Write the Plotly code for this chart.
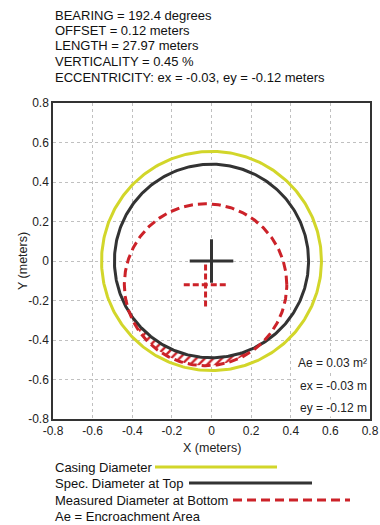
import numpy as np
import plotly.graph_objects as go

# ---- data ----
header_lines = ["BEARING = 192.4 degrees", "OFFSET = 0.12 meters", "LENGTH = 27.97 meters",
                "VERTICALITY = 0.45 %", "ECCENTRICITY: ex = -0.03, ey = -0.12 meters"]
casing_radius = 0.555
spec_radius = 0.49
measured_radius = 0.41
ex = -0.03
ey = -0.12
cross_half = 0.11
inset_lines = ["Ae = 0.03 m²", "ex = -0.03 m", "ey = -0.12 m"]
legend_labels = ["Casing Diameter", "Spec. Diameter at Top", "Measured Diameter at Bottom",
                 "Ae = Encroachment Area"]
tick_vals = [-0.8, -0.6, -0.4, -0.2, 0, 0.2, 0.4, 0.6, 0.8]
tick_text = ["-0.8", "-0.6", "-0.4", "-0.2", "0", "0.2", "0.4", "0.6", "0.8"]
x_title = "X (meters)"
y_title = "Y (meters)"

YELLOW = "#d2d62a"
BLACK = "#333333"
RED = "#cc2229"
FONT = "Arial, Liberation Sans, sans-serif"

W, H = 380, 525
ML, MR, MT, MB = 53, 10, 103, 106
PW, PH = W - ML - MR, H - MT - MB


def px(x):
    return (x - ML) / PW


def py(y):
    return (H - MB - y) / PH


th = np.linspace(0, 2 * np.pi, 361)

fig = go.Figure()

# encroachment region (measured circle outside spec circle)
t = np.linspace(-np.pi, np.pi, 2001)
rx = ex + measured_radius * np.cos(t)
ry = ey + measured_radius * np.sin(t)
d = np.hypot(rx, ry)
m = d > spec_radius
ox, oy = rx[m], ry[m]
bx, by = ox / np.hypot(ox, oy) * spec_radius, oy / np.hypot(ox, oy) * spec_radius
poly_x = np.concatenate([ox, bx[::-1]])
poly_y = np.concatenate([oy, by[::-1]])
fig.add_trace(go.Scatter(x=poly_x, y=poly_y, mode="lines", fill="toself",
                         line=dict(width=0, color=RED), fillcolor="rgba(0,0,0,0)",
                         fillpattern=dict(shape="/", fgcolor=RED, bgcolor="white", size=6, solidity=0.4),
                         hoverinfo="skip", showlegend=False))

fig.add_trace(go.Scatter(x=casing_radius * np.cos(th), y=casing_radius * np.sin(th), mode="lines",
                         line=dict(color=YELLOW, width=3), showlegend=False))
fig.add_trace(go.Scatter(x=spec_radius * np.cos(th), y=spec_radius * np.sin(th), mode="lines",
                         line=dict(color=BLACK, width=3), showlegend=False))
fig.add_trace(go.Scatter(x=ex + measured_radius * np.cos(th), y=ey + measured_radius * np.sin(th), mode="lines",
                         line=dict(color=RED, width=3, dash="9px,5px"), showlegend=False))

# crosses
fig.add_trace(go.Scatter(x=[-cross_half, cross_half, None, 0, 0], y=[0, 0, None, -cross_half, cross_half],
                         mode="lines", line=dict(color=BLACK, width=3), showlegend=False))
fig.add_trace(go.Scatter(x=[ex - cross_half, ex + cross_half, None, ex, ex],
                         y=[ey, ey, None, ey - cross_half, ey + cross_half],
                         mode="lines", line=dict(color=RED, width=3, dash="6px,3px"), showlegend=False))

ann = []
for txt, yy in zip(header_lines, [15, 30.5, 46, 61.5, 77]):
    ann.append(dict(x=0, y=py(yy), xref="paper", yref="paper", xanchor="left", yanchor="middle",
                    text=txt, showarrow=False, font=dict(size=13, color="#111", family=FONT)))
for txt, yy in zip(inset_lines, [363, 386, 408]):
    ann.append(dict(x=px(369), y=py(yy), xref="paper", yref="paper", xanchor="right", yanchor="middle",
                    text=txt, showarrow=False, bgcolor="white", borderpad=1,
                    font=dict(size=12, color="#222", family=FONT)))
for txt, yy in zip(legend_labels, [467, 483, 500, 516]):
    ann.append(dict(x=0, y=py(yy), xref="paper", yref="paper", xanchor="left", yanchor="middle",
                    text=txt, showarrow=False, font=dict(size=13, color="#111", family=FONT)))
ann.append(dict(x=0.5, y=py(448), xref="paper", yref="paper", xanchor="center", yanchor="middle",
                text=x_title, showarrow=False, font=dict(size=12.5, color="#222", family=FONT)))
ann.append(dict(x=px(23), y=py(261), xref="paper", yref="paper", xanchor="center", yanchor="middle",
                text=y_title, textangle=-90, showarrow=False, font=dict(size=12.5, color="#222", family=FONT)))

shapes = [
    dict(type="line", xref="paper", yref="paper", x0=px(155), x1=px(277), y0=py(467), y1=py(467),
         line=dict(color=YELLOW, width=3)),
    dict(type="line", xref="paper", yref="paper", x0=px(189), x1=px(312), y0=py(483), y1=py(483),
         line=dict(color=BLACK, width=3)),
    dict(type="line", xref="paper", yref="paper", x0=px(233), x1=px(350), y0=py(500), y1=py(500),
         line=dict(color=RED, width=3, dash="9px,5px")),
]

axis_common = dict(range=[-0.8, 0.8], tickvals=tick_vals, ticktext=tick_text, showgrid=True,
                   gridcolor="#c0c0c0", griddash="3px,3px", gridwidth=1, zeroline=False,
                   showline=True, mirror=True, linecolor=BLACK, linewidth=1.5, ticks="",
                   automargin=False,
                   tickfont=dict(size=12, color="#222", family=FONT))
fig.update_layout(
    template="none",
    width=W, height=H, margin=dict(l=ML, r=MR, t=MT, b=MB),
    paper_bgcolor="white", plot_bgcolor="white",
    xaxis=dict(**axis_common), yaxis=dict(**axis_common),
    annotations=ann, shapes=shapes, showlegend=False,
    font=dict(family=FONT),
)
fig.write_html("out.html", config={"displayModeBar": False},
               post_script="document.body.style.margin='0';document.body.style.overflow='hidden';")
